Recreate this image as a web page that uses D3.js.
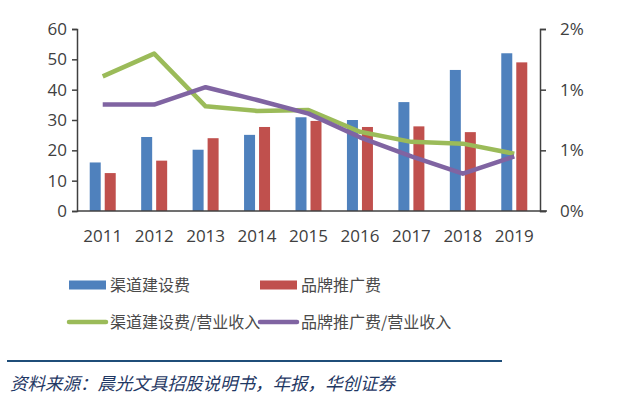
<!DOCTYPE html>
<html>
<head>
<meta charset="utf-8">
<script src="https://cdn.jsdelivr.net/npm/d3@7"></script>
<style>
  body { margin: 0; background: #fff; }
  svg { display: block; }
  text { font-family: "Open Sans", "Noto Sans", sans-serif; }
  .cjk { font-family: "Noto Sans CJK SC", sans-serif; }
</style>
</head>
<body>
<div class="canvas"></div>
<script>
// data
const years = ['2011', '2012', '2013', '2014', '2015', '2016', '2017', '2018', '2019']
const channelCost = [16, 24.4, 20.2, 25.1, 30.9, 30.0, 35.9, 46.5, 52.0]
const brandCost = [12.5, 16.6, 24.0, 27.7, 29.7, 27.7, 27.9, 26.0, 49.0]
const channelRatio = [1.48, 1.73, 1.15, 1.10, 1.11, 0.87, 0.76, 0.74, 0.63]
const brandRatio = [1.17, 1.17, 1.36, 1.22, 1.07, 0.81, 0.60, 0.41, 0.60]
const leftTicks = [0, 10, 20, 30, 40, 50, 60]
const rightTicks = [0, 2 / 3, 4 / 3, 2]
const seriesNames = ['渠道建设费', '品牌推广费', '渠道建设费/营业收入', '品牌推广费/营业收入']
const colors = ['#4f81bd', '#c0504d', '#9bbb59', '#8064a2']

const dims = { width: 640, height: 399 }
const plot = { left: 77, right: 540, top: 29, bottom: 211 }

const svg = d3.select('.canvas')
    .append('svg')
    .attr('width', dims.width)
    .attr('height', dims.height)

// scales
const x = d3.scaleBand().domain(years).range([plot.left, plot.right])
const yL = d3.scaleLinear().domain([0, 60]).range([plot.bottom, plot.top])
const yR = d3.scaleLinear().domain([0, 2]).range([plot.bottom, plot.top])

// bars
const barW = 11, barGap = 4
const bars = svg.append('g')
years.forEach((yr, i) => {
    const c = x(yr) + x.bandwidth() / 2
    bars.append('rect')
        .attr('x', c - barGap / 2 - barW)
        .attr('y', yL(channelCost[i]))
        .attr('width', barW)
        .attr('height', yL(0) - yL(channelCost[i]))
        .attr('fill', colors[0])
    bars.append('rect')
        .attr('x', c + barGap / 2)
        .attr('y', yL(brandCost[i]))
        .attr('width', barW)
        .attr('height', yL(0) - yL(brandCost[i]))
        .attr('fill', colors[1])
})

// axes
const axisColor = '#404040'
const leftAxis = svg.append('g')
    .attr('transform', `translate(${plot.left},0)`)
    .call(d3.axisLeft(yL).tickValues(leftTicks).tickSize(5).tickPadding(5))
const rightAxis = svg.append('g')
    .attr('transform', `translate(${plot.right},0)`)
    .call(d3.axisRight(yR).tickValues(rightTicks).tickSize(6).tickPadding(14)
        .tickFormat(d => Math.round(d) + '%'))
const bottomAxis = svg.append('g')
    .attr('transform', `translate(0,${plot.bottom})`)
    .call(d3.axisBottom(x).tickSize(0).tickPadding(19))

;[leftAxis, rightAxis, bottomAxis].forEach(g => {
    g.select('.domain').attr('stroke', axisColor).attr('stroke-width', 1.5)
    g.selectAll('line').attr('stroke', axisColor).attr('stroke-width', 1.5)
    g.selectAll('text')
        .attr('fill', axisColor)
        .style('font-size', '17px')
        .style('font-family', '"Open Sans", sans-serif')
})
bottomAxis.select('.domain').attr('d', `M${plot.left},0H${plot.right + 7}`)

// lines
const line = d3.line()
    .x((d, i) => x(years[i]) + x.bandwidth() / 2)
    .y(d => yR(d))

svg.append('path')
    .attr('d', line(channelRatio))
    .attr('fill', 'none')
    .attr('stroke', colors[2])
    .attr('stroke-width', 4.5)
    .attr('stroke-linejoin', 'round')

svg.append('path')
    .attr('d', line(brandRatio))
    .attr('fill', 'none')
    .attr('stroke', colors[3])
    .attr('stroke-width', 4.5)
    .attr('stroke-linejoin', 'round')

// legend
const legendPos = [
    { x: 69, y: 285 },
    { x: 260, y: 285 },
    { x: 69, y: 322 },
    { x: 260, y: 322 }
]
seriesNames.forEach((name, i) => {
    const g = svg.append('g').attr('transform', `translate(${legendPos[i].x},${legendPos[i].y})`)
    if (i < 2) {
        g.append('rect').attr('x', 0).attr('y', -4.5).attr('width', 37).attr('height', 9).attr('fill', colors[i])
    } else {
        g.append('line').attr('x1', 0).attr('x2', 37).attr('y1', 0).attr('y2', 0)
            .attr('stroke', colors[i]).attr('stroke-width', 4.5).attr('stroke-linecap', 'round')
    }
    g.append('text')
        .attr('class', 'cjk')
        .attr('x', 41)
        .attr('y', 0)
        .attr('dy', '0.35em')
        .attr('fill', '#4a4a4a')
        .style('font-size', '16px')
        .text(name)
})

// source
svg.append('line')
    .attr('x1', 7).attr('x2', 502)
    .attr('y1', 361).attr('y2', 361)
    .attr('stroke', '#1f4e79')
    .attr('stroke-width', 2)

svg.append('text')
    .attr('class', 'cjk')
    .attr('x', 10)
    .attr('y', 390)
    .attr('fill', '#1f3864')
    .style('font-size', '17.5px')
    .style('font-style', 'italic')
    .text('资料来源：晨光文具招股说明书，年报，华创证券')
</script>
</body>
</html>
